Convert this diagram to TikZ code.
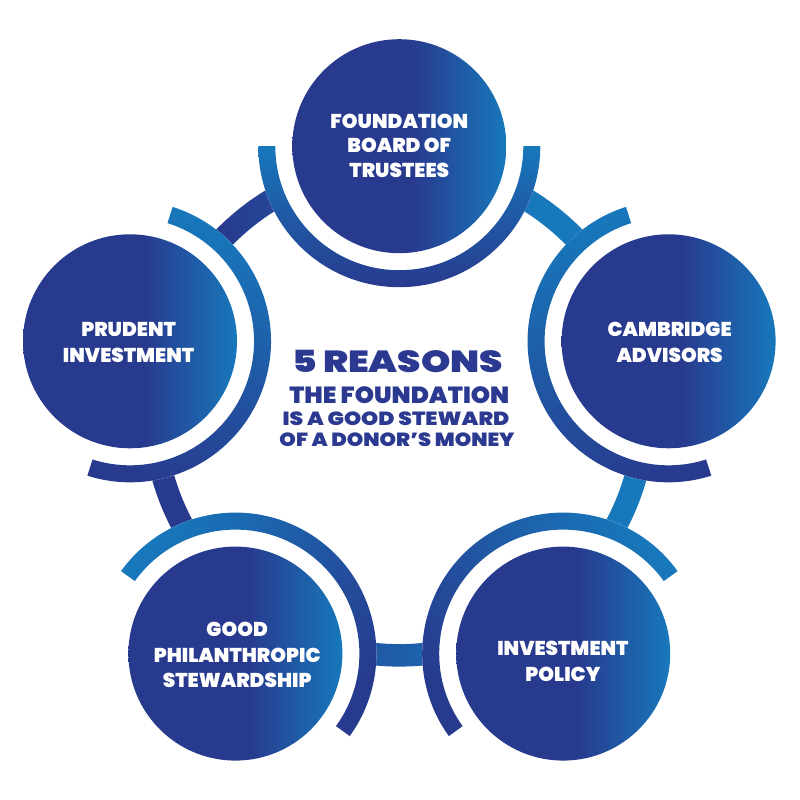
\documentclass[tikz,border=0pt]{standalone}
\usepackage{fontspec}
\setmainfont{Poppins}[UprightFont={* Black}]
\usetikzlibrary{calc}
\definecolor{dk}{RGB}{40,58,142}
\definecolor{lt}{RGB}{23,120,187}
\definecolor{ttl}{RGB}{43,57,144}
\pgfdeclarehorizontalshading{circgrad}{100bp}{color(0bp)=(dk); color(25bp)=(dk); color(53bp)=(dk); color(75bp)=(lt); color(100bp)=(lt)}
\pgfdeclarehorizontalshading{ringgrad}{100bp}{color(0bp)=(dk); color(32bp)=(dk); color(63bp)=(lt); color(100bp)=(lt)}
\tikzset{
  disc/.style={circle, minimum size=214pt, inner sep=0pt, shade, shading=circgrad},
  lbl/.style={text=white, font=\fontsize{20}{24}\selectfont, anchor=base, inner sep=0pt},
  ttlline/.style={text=ttl, anchor=base, inner sep=0pt},
  halo/.style={fill=white},
}
\newcommand\lb[1]{\scalebox{1.0}[1]{#1}}
\newcommand\tl[4]{\resizebox{#1pt}{#2pt}{\fontsize{#3}{#3}\selectfont #4}}
\newcommand\halfring[3]{%
  \shade[top color=lt, bottom color=dk, shading angle=#3]
  ($(#1)+(#2-90:141pt)$) arc[start angle=#2-90, end angle=#2+90, radius=141pt]
  -- ($(#1)+(#2+90:124pt)$) arc[start angle=#2+90, end angle=#2-90, radius=124pt] -- cycle;}
\begin{document}
\begin{tikzpicture}[x=1pt,y=1pt]
\useasboundingbox (0,0) rectangle (800,800);
\coordinate (rc) at (399.3,390.3);
\coordinate (pT) at (399.3,653.8);
\coordinate (pL) at (130,458.7);
\coordinate (pR) at (668.6,458.7);
\coordinate (pBL) at (235.4,146.4);
\coordinate (pBR) at (563.2,146.4);
% connecting ring
\shade[shading=ringgrad, even odd rule] (rc) circle[radius=256.9pt] (rc) circle[radius=234.4pt];
% white halos
\foreach \p in {pT,pL,pR,pBL,pBR} \fill[halo] (\p) circle[radius=141pt];
% half rings
\halfring{pT}{270}{0}
\halfring{pL}{-17.6}{-17.6}
\halfring{pR}{197.6}{17.6}
\halfring{pBL}{54.2}{54.2}
\halfring{pBR}{125.8}{-54.2}
% discs
\node[disc] (top) at (pT) {};
\node[disc] (left) at (pL) {};
\node[disc] (right) at (pR) {};
\node[disc] (bl) at (pBL) {};
\node[disc] (br) at (pBR) {};
% labels
\node[lbl] (t1) at (399.3,671.7) {\lb{FOUNDATION}};
\node[lbl] (t2) at (399.3,647.1) {\lb{BOARD OF}};
\node[lbl] (t3) at (399.3,622.0) {\lb{TRUSTEES}};
\node[lbl] (l1) at (128.6,463.3) {\lb{PRUDENT}};
\node[lbl] (l2) at (128.6,437.8) {\lb{INVESTMENT}};
\node[lbl] (r1) at (669.6,463.3) {\lb{CAMBRIDGE}};
\node[lbl] (r2) at (669.6,437.8) {\lb{ADVISORS}};
\node[lbl] (b1) at (237.2,163.3) {\lb{GOOD}};
\node[lbl] (b2) at (237.2,137.8) {\lb{PHILANTHROPIC}};
\node[lbl] (b3) at (237.2,112.2) {\lb{STEWARDSHIP}};
\node[lbl] (c1) at (562.9,144.4) {\lb{INVESTMENT}};
\node[lbl] (c2) at (562.9,118.9) {\lb{POLICY}};
% title
\node[ttlline] (h1) at (397.5,427.5) {\tl{211}{22.3}{32}{5 REASONS}};
\node[ttlline] (h2) at (399.3,396.5) {\tl{220}{16.8}{24}{THE FOUNDATION}};
\node[ttlline] (h3) at (396,374) {\tl{226.7}{13.7}{19}{IS A GOOD STEWARD}};
\node[ttlline] (h4) at (397,353) {\tl{235}{13.7}{19}{OF A DONOR’S MONEY}};
\end{tikzpicture}
\end{document}
